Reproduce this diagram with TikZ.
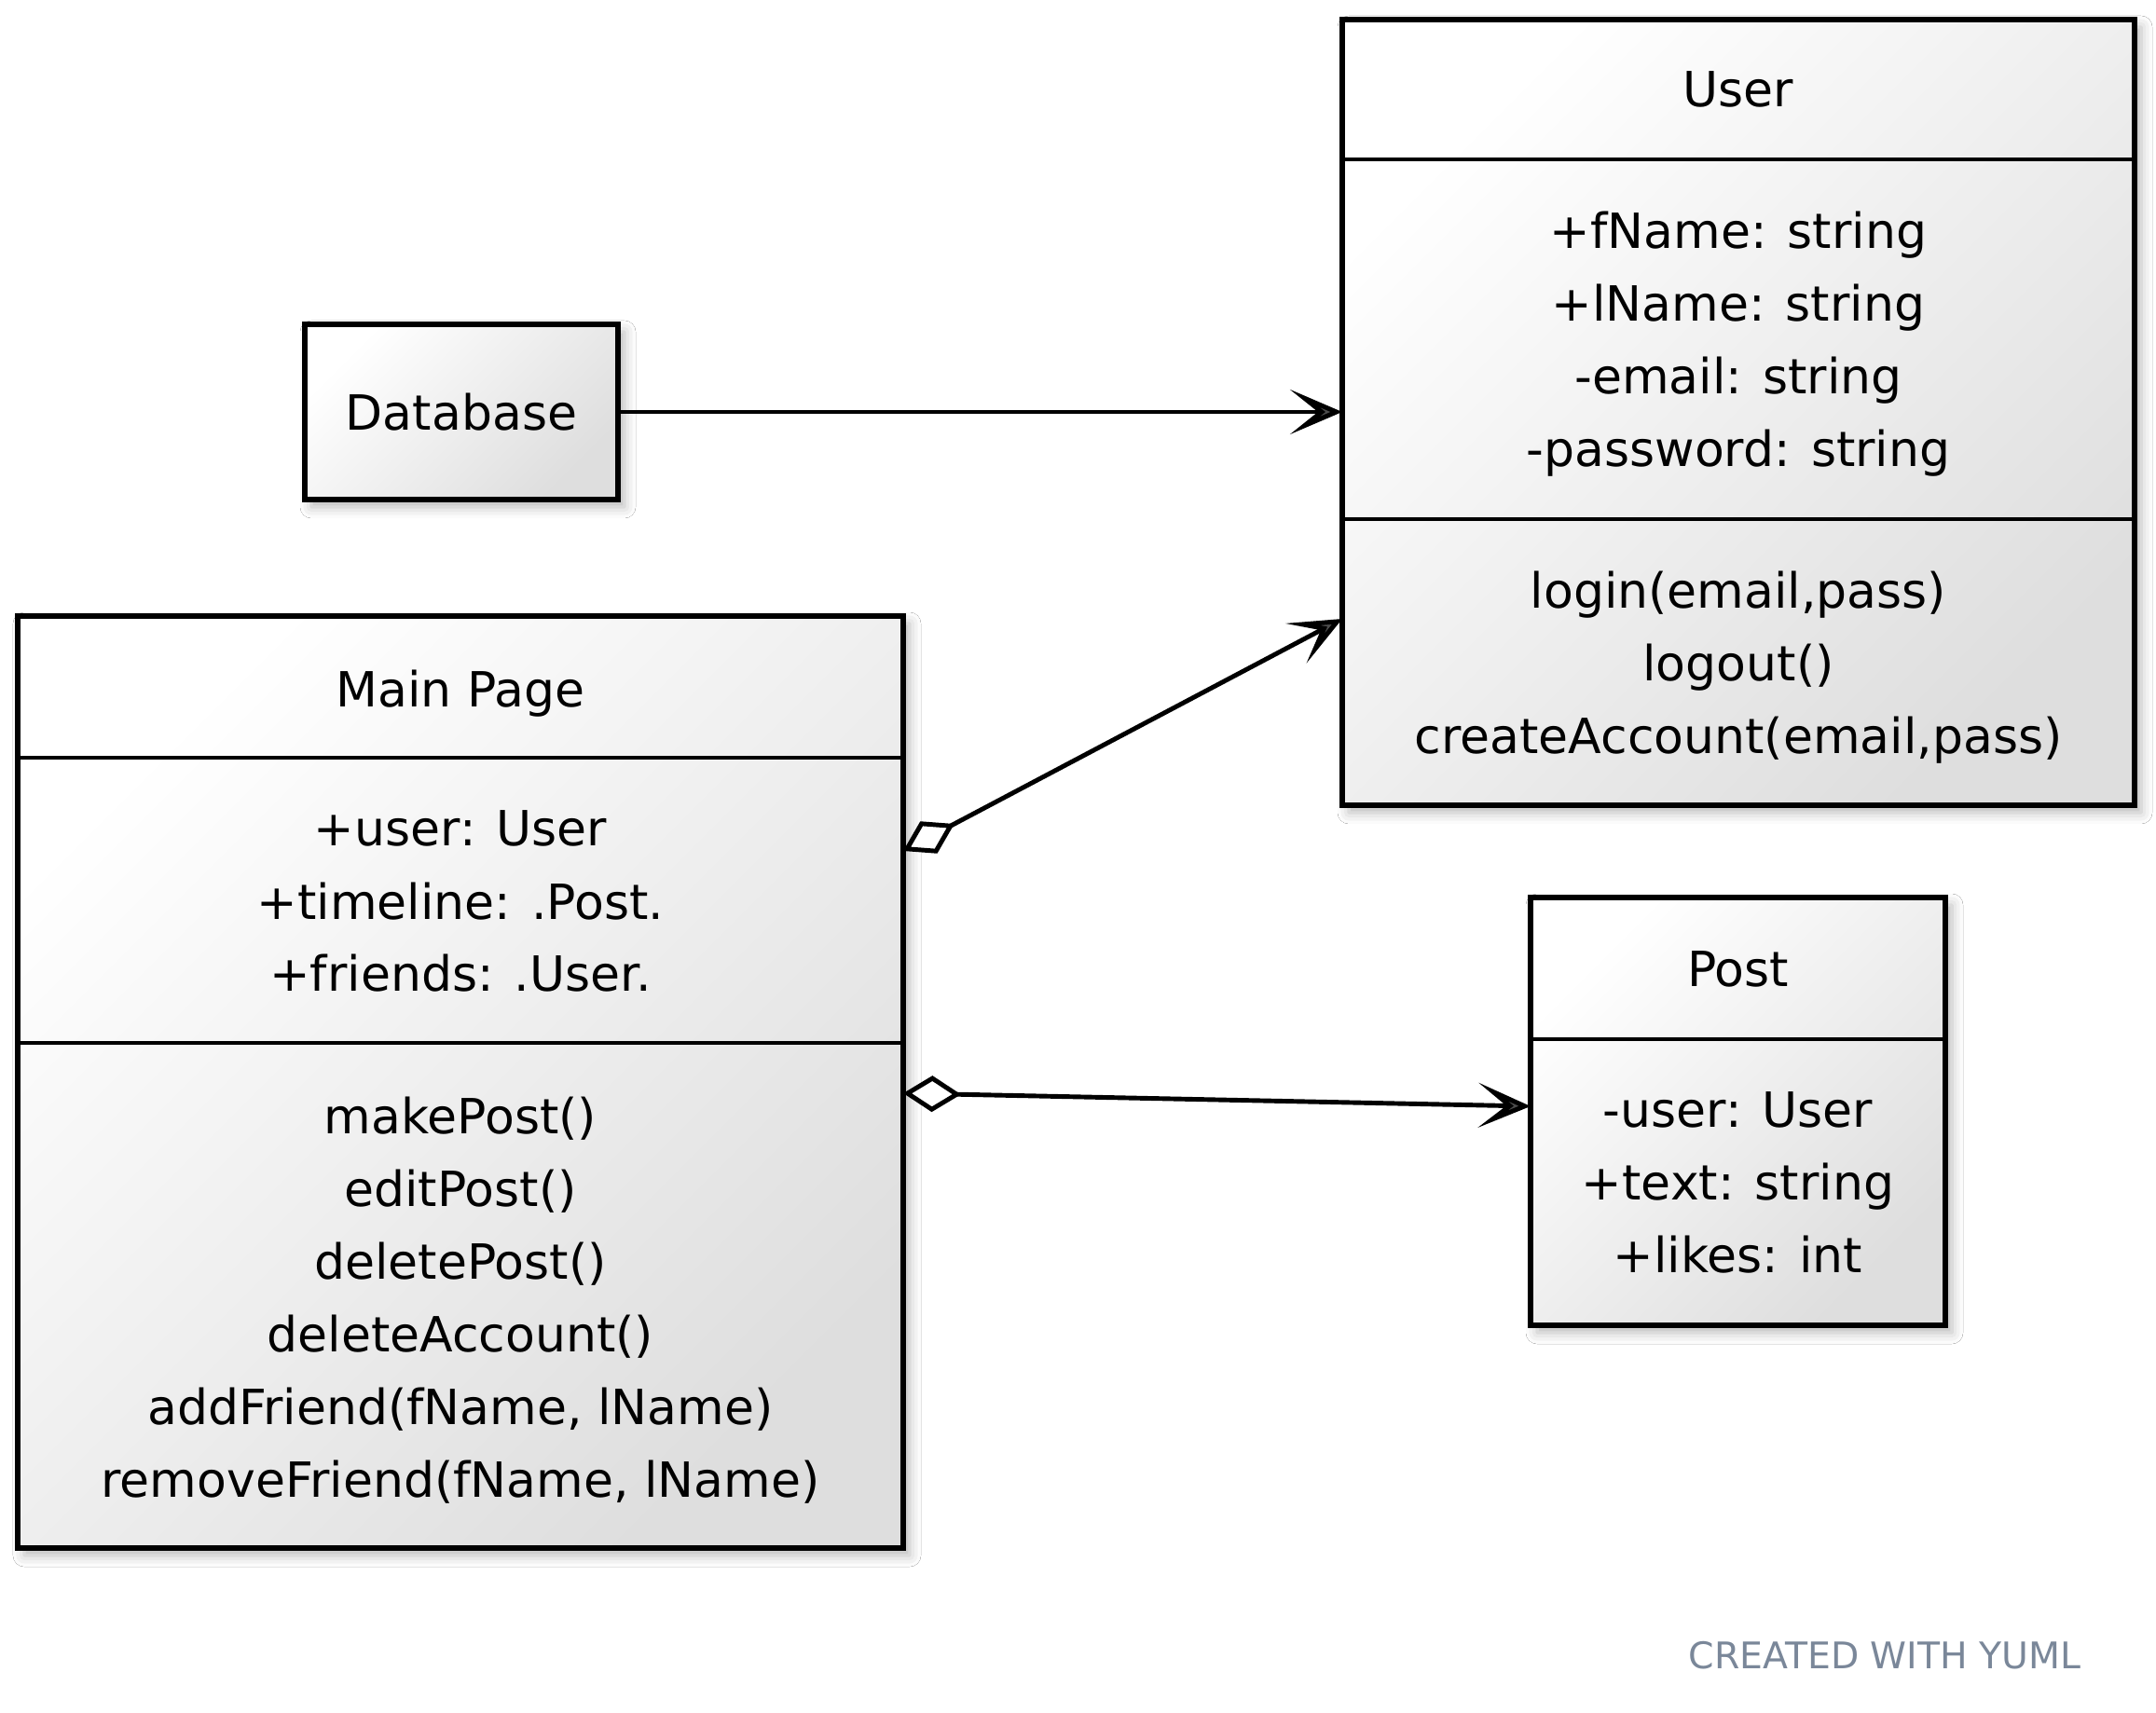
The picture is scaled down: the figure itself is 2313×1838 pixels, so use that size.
\documentclass[tikz,border=0pt]{standalone}
\usepackage{fontspec}
\setmainfont{DejaVu Sans}
\usetikzlibrary{arrows.meta,calc,shadows.blur}
\definecolor{wmcol}{HTML}{7A8799}
\begin{document}
\begin{tikzpicture}[x=0.1mm,y=-0.1mm,
  umlbox/.style={draw=black, line width=1.6pt, inner sep=0pt, outer sep=0pt, anchor=north west,
    top color=white, bottom color=black!13, shading angle=45,
    blur shadow={shadow xshift=0.7mm, shadow yshift=-0.8mm, shadow blur radius=1.2mm, shadow opacity=28}},
  divline/.style={line width=1.4pt},
  txt/.style={anchor=base, inner sep=0pt, font=\fontsize{14.8}{18}\selectfont},
  vhead/.tip={Stealth[length=5.6mm,width=4.8mm,inset=3mm,fill=black!70]},
  assoc/.style={line width=1.4pt, -vhead},
  agg/.style={line width=1.4pt, {Diamond[length=6.2mm,width=3.9mm,fill=white]}-vhead}
]
\useasboundingbox (0,0) rectangle (2313,1838);
\fill[white] (0,0) rectangle (2313,1838);

% boxes
\node[umlbox, minimum width=85mm, minimum height=84.3mm] (user) at (1440,21) {};
\node[umlbox, minimum width=33.6mm, minimum height=18.8mm] (db) at (327,348) {};
\node[umlbox, minimum width=95mm, minimum height=100mm] (main) at (19,661) {};
\node[umlbox, minimum width=44.5mm, minimum height=45.9mm] (post) at (1642,963) {};

% dividers
\draw[divline] ($(user.north west)+(0,150)$) -- ($(user.north east)+(0,150)$);
\draw[divline] ($(user.north west)+(0,536)$) -- ($(user.north east)+(0,536)$);
\draw[divline] ($(main.north west)+(0,152)$) -- ($(main.north east)+(0,152)$);
\draw[divline] ($(main.north west)+(0,458)$) -- ($(main.north east)+(0,458)$);
\draw[divline] ($(post.north west)+(0,152)$) -- ($(post.north east)+(0,152)$);

% User texts
\node[txt] (ut) at (1865,115) {User};
\node[txt] (ua1) at (1865,267) {+fName: string};
\node[txt] (ua2) at (1865,345) {+lName: string};
\node[txt] (ua3) at (1865,423) {-email: string};
\node[txt] (ua4) at (1865,501) {-password: string};
\node[txt] (um1) at (1865,653) {login(email,pass)};
\node[txt] (um2) at (1865,731) {logout()};
\node[txt] (um3) at (1865,809) {createAccount(email,pass)};

% Database text
\node[txt] (dbt) at (495,462) {Database};

% Main Page texts
\node[txt] (mt) at (494,759) {Main Page};
\node[txt] (ma1) at (494,908) {+user: User};
\node[txt] (ma2) at (494,986) {+timeline: .Post.};
\node[txt] (ma3) at (494,1064) {+friends: .User.};
\node[txt] (mm1) at (494,1216) {makePost()};
\node[txt] (mm2) at (494,1294) {editPost()};
\node[txt] (mm3) at (494,1372) {deletePost()};
\node[txt] (mm4) at (494,1450) {deleteAccount()};
\node[txt] (mm5) at (494,1528) {addFriend(fName, lName)};
\node[txt] (mm6) at (494,1606) {removeFriend(fName, lName)};

% Post texts
\node[txt] (pt) at (1864.5,1058) {Post};
\node[txt] (pa1) at (1864.5,1209) {-user: User};
\node[txt] (pa2) at (1864.5,1287) {+text: string};
\node[txt] (pa3) at (1864.5,1365) {+likes: int};

% watermark
\node[anchor=base, inner sep=0pt, font=\fontsize{11.2}{13}\selectfont, text=wmcol] (wmk) at (2022,1790) {CREATED WITH YUML};

% connector end points
\coordinate (mU) at ($(main.north east)+(0,252)$);
\coordinate (uM) at ($(user.north west)+(0,643)$);
\coordinate (mP) at ($(main.north east)+(0,512)$);
\coordinate (pM) at ($(post.north west)+(0,224)$);

% connectors
\draw[assoc] (db.east) -- (db.east -| user.west);
\draw[agg] (mU) -- (uM);
\draw[agg] (mP) -- (pM);
\end{tikzpicture}
\end{document}
